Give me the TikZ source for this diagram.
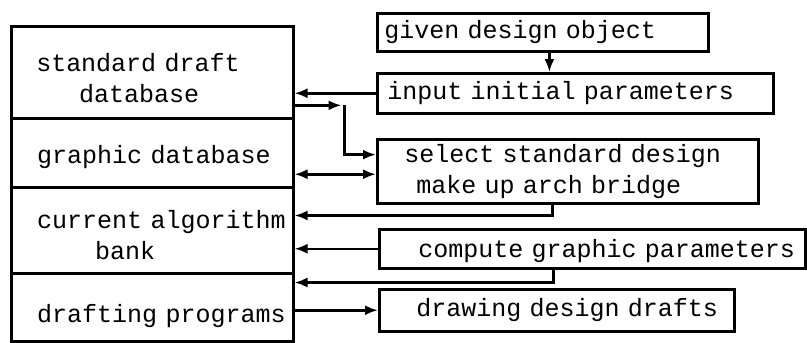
\documentclass[tikz,border=0pt]{standalone}
\usepackage{fontspec}
\setmonofont{Liberation Mono}
\usetikzlibrary{arrows.meta,calc}
\newcommand{\lift}[1]{\rule{0pt}{#1}}
\begin{document}
\begin{tikzpicture}[x=1pt,y=-1pt,
  box/.style={draw, line width=2.5pt, rectangle, anchor=north west, inner xsep=4pt, inner ysep=0pt,
    font=\ttfamily\fontsize{25}{31}\selectfont, align=left},
  arr/.style={line width=2.5pt, -{Latex[length=13pt,width=10pt]}},
  darr/.style={line width=2.5pt, {Latex[length=13pt,width=10pt]}-{Latex[length=13pt,width=10pt]}},
]
\useasboundingbox (0,0) rectangle (807,343);
% left stack
\node[box, minimum width=282, minimum height=92, text width=274] (sd) at (10,25)
  {\hspace*{21pt}\lift{29pt}standard draft\\\hspace*{64pt}database};
\node[box, minimum width=282, minimum height=69, text width=274] (gd) at (10,117)
  {\hspace*{22pt}\lift{27pt}graphic database};
\node[box, minimum width=282, minimum height=86, text width=274] (ca) at (10,186)
  {\hspace*{22pt}\lift{27pt}current algorithm\\\hspace*{80pt}bank};
\node[box, minimum width=282, minimum height=68, text width=274] (dp) at (10,272)
  {\hspace*{22pt}\lift{35pt}drafting programs};
% right boxes
\node[box, minimum width=331, minimum height=38, text width=323] (gv) at (376,12)
  {\hspace*{3pt}given design object};
\node[box, minimum width=396, minimum height=40, text width=388] (ip) at (376,72)
  {\hspace*{6pt}input initial parameters};
\node[box, minimum width=381, minimum height=64, text width=373] (sel) at (376,138)
  {\hspace*{23pt}select standard design\\\hspace*{35pt}make up arch bridge};
\node[box, minimum width=426, minimum height=39, text width=418] (cp) at (378,228)
  {\hspace*{35pt}\lift{23pt}compute graphic parameters};
\node[box, minimum width=355, minimum height=42, text width=347] (dr) at (378,288)
  {\hspace*{33pt}drawing design drafts};
% connectors
\coordinate (g1) at ($(gv.south west)!0.52!(gv.south east)$);
\draw[arr] (g1) -- (g1 |- ip.north);
\draw[arr] (ip.west) -- (ip.west -| sd.east);
\coordinate (s1) at ($(sd.north east)!0.85!(sd.south east)$);
\coordinate (k) at ($(s1)+(50,0)$);
\coordinate (s2) at ($(sel.north west)!0.25!(sel.south west)$);
\draw[arr, shorten >=3pt] (s1) -- (k);
\draw[arr] (k) |- (s2);
\coordinate (s3) at ($(sel.west)+(0,3)$);
\draw[darr] (s3 -| gd.east) -- (s3);
\coordinate (sb) at ($(sel.south west)!0.46!(sel.south east)$);
\coordinate (sbk) at ($(sb)+(0,11)$);
\draw[arr] (sb) -- (sbk) -- (sbk -| ca.east);
\draw[arr] (cp.west) -- (cp.west -| ca.east);
\coordinate (cb) at ($(cp.south west)!0.41!(cp.south east)$);
\coordinate (cbk) at ($(cb)+(0,13)$);
\draw[arr] (cb) -- (cbk) -- (cbk -| dp.east);
\draw[arr] (dr.west -| dp.east) -- (dr.west);
\end{tikzpicture}
\end{document}
